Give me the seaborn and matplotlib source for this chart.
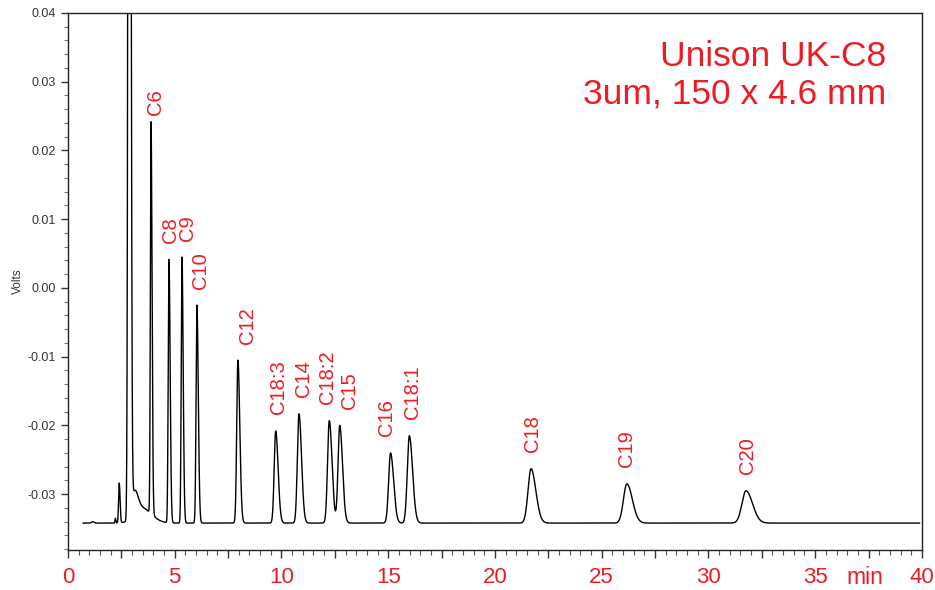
import numpy as np
import pandas as pd
import matplotlib
matplotlib.use("Agg")
import matplotlib.pyplot as plt
import seaborn as sns
from matplotlib.ticker import MultipleLocator, FuncFormatter, FormatStrFormatter

# Peak table (retention time in min, apex in volts)
peak_names = ['C6', 'C8', 'C9', 'C10', 'C12', 'C18:3', 'C14', 'C18:2', 'C15',
              'C16', 'C18:1', 'C18', 'C19', 'C20']
peak_times = [3.89, 4.73, 5.34, 6.04, 7.96, 9.73, 10.82, 12.24, 12.73,
              15.11, 15.99, 21.69, 26.18, 31.76]
peak_apex = [0.0228, 0.0041, 0.0045, -0.0025, -0.0105, -0.0208, -0.0183, -0.0193, -0.0200,
             -0.0240, -0.0215, -0.0263, -0.0285, -0.0295]
peak_sigma = [0.03, 0.035, 0.035, 0.04, 0.055, 0.07, 0.075, 0.08, 0.08,
              0.09, 0.095, 0.14, 0.16, 0.19]
label_times = [4.12, 4.82, 5.62, 6.23, 8.43, 9.88, 11.01, 12.18, 13.21,
               14.94, 16.16, 21.78, 26.14, 31.85]

# unlabelled early stuff: injection bumps, solvent front and its tail
extra_times = [1.15, 2.22, 2.40, 2.87, 3.12, 3.45]
extra_amp = [0.0002, 0.0007, 0.0058, 0.30, 0.0033, 0.0022]
extra_sigma = [0.05, 0.02, 0.03, 0.045, 0.12, 0.35]

baseline = -0.0342
run_start, run_end = 0.7, 39.9

red = '#ed1c24'


def peak(t, t0, amp, sig, tail=1.6):
    s = np.where(t < t0, sig, sig * tail)
    return amp * np.exp(-0.5 * ((t - t0) / s) ** 2)


t = np.arange(run_start, run_end, 0.002)
signal = np.full_like(t, baseline)
for t0, a, s in zip(extra_times, extra_amp, extra_sigma):
    signal += peak(t, t0, a, s, tail=1.3)
for t0, a, s in zip(peak_times, peak_apex, peak_sigma):
    signal += peak(t, t0, a - baseline, s)

trace = pd.DataFrame({'min': t, 'Volts': signal})

sns.set_style('ticks')
plt.rcParams['font.family'] = ['Liberation Sans', 'DejaVu Sans']

fig, ax = plt.subplots(figsize=(9.35, 5.9), dpi=100)
fig.subplots_adjust(left=0.0727, right=0.986, top=0.978, bottom=0.068)

sns.lineplot(data=trace, x='min', y='Volts', ax=ax, color='black', lw=1,
             estimator=None, sort=False)

ax.set_xlim(0, 40)
ax.set_ylim(-0.0381, 0.04)

# peak labels
for name, lx, ap in zip(peak_names, label_times, peak_apex):
    ax.text(lx, ap + 0.0024, name, rotation=90, ha='center', va='bottom',
            color=red, fontsize=14.5)

ax.text(0.958, 0.95, 'Unison UK-C8', transform=ax.transAxes, ha='right', va='top',
        color=red, fontsize=25.5)
ax.text(0.958, 0.88, '3um, 150 x 4.6 mm', transform=ax.transAxes, ha='right', va='top',
        color=red, fontsize=25.5)

# axes ticks
ax.xaxis.set_major_locator(MultipleLocator(2.5))
ax.xaxis.set_minor_locator(MultipleLocator(0.5))
ax.xaxis.set_major_formatter(FuncFormatter(
    lambda v, p: '%d' % round(v) if abs(v / 5 - round(v / 5)) < 1e-6 else ''))
ax.yaxis.set_major_locator(MultipleLocator(0.01))
ax.yaxis.set_minor_locator(MultipleLocator(0.002))
ax.yaxis.set_major_formatter(FormatStrFormatter('%.2f'))

ax.tick_params(axis='x', which='major', direction='out', length=6, width=1,
               labelsize=16, labelcolor=red, pad=6, color='#333333')
ax.tick_params(axis='x', which='minor', direction='out', length=3.5, width=0.8,
               color='#555555')
ax.tick_params(axis='y', which='major', direction='out', length=5, width=1,
               labelsize=9, labelcolor='#333333', color='#333333')
ax.tick_params(axis='y', which='minor', direction='out', length=3, width=0.8,
               color='#777777')

for sp in ax.spines.values():
    sp.set_visible(True)
    sp.set_color('#222222')
    sp.set_linewidth(1)

ax.set_ylabel('Volts', fontsize=8.5, color='#333333', labelpad=3)
ax.set_xlabel('')
ax.text(0.933, -0.051, 'min', transform=ax.transAxes, ha='center', va='center',
        fontsize=16.5, color=red)

fig.savefig('out.png', dpi=100)
